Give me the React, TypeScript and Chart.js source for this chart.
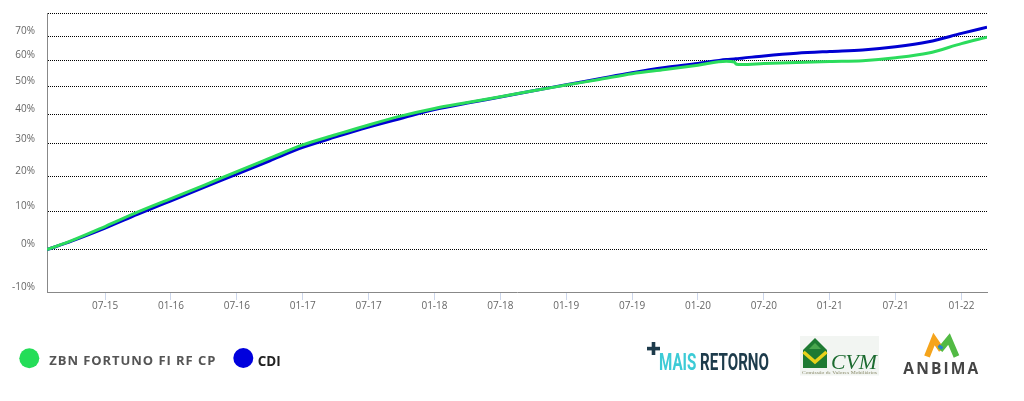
import React, { useEffect, useRef } from 'react';
import { Chart, registerables } from 'chart.js';

Chart.register(...registerables);

const fundName = 'ZBN FORTUNO FI RF CP';
const benchName = 'CDI';

const dates = [
  '2015-01-23', '2015-04-01', '2015-07-01', '2015-10-01', '2016-01-01', '2016-04-01',
  '2016-07-01', '2016-10-01', '2017-01-01', '2017-04-01', '2017-07-01', '2017-10-01',
  '2018-01-01', '2018-04-01', '2018-07-01', '2018-10-01', '2019-01-01', '2019-04-01',
  '2019-07-01', '2019-10-01', '2020-01-01', '2020-03-19', '2020-04-10', '2020-04-16',
  '2020-05-01', '2020-07-01', '2020-10-01', '2021-01-01', '2021-04-01', '2021-07-01',
  '2021-10-01', '2022-01-01', '2022-03-11',
];

const fundReturns = [
  0, 2.3, 5.9, 9.8, 13.5, 17.3,
  21.4, 25.5, 29.7, 33.0, 36.3, 39.4,
  42.0, 44.1, 46.2, 48.4, 50.5, 52.6,
  54.8, 56.4, 58.1, 59.65, 59.4, 58.5,
  58.4, 58.75, 59.2, 59.6, 59.9, 61.05,
  62.95, 66.8, 69.5,
];

const cdiReturns = [
  0, 2.2, 5.5, 9.2, 12.9, 16.7,
  20.6, 24.7, 28.9, 32.3, 35.6, 38.6,
  41.6, 43.9, 46.1, 48.4, 50.6, 52.9,
  55.2, 57.2, 58.8, 60.4, 60.6, 60.7,
  60.9, 61.8, 62.9, 63.6, 64.2, 65.5,
  67.6, 71.1, 73.8,
];

const xTickLabels = [
  '07-15', '01-16', '07-16', '01-17', '07-17', '01-18', '07-18',
  '01-19', '07-19', '01-20', '07-20', '01-21', '07-21', '01-22',
];

const yTickValues = [-10, 0, 10, 20, 30, 40, 50, 60, 70, 80];

const BASE_YEAR = 2015;

function toMonth(d: string): number {
  const [y, m, day] = d.split('-').map(Number);
  const dim = new Date(y, m, 0).getDate();
  return (y - BASE_YEAR) * 12 + (m - 1) + (day - 1) / dim;
}

function labelToMonth(l: string): number {
  const [mm, yy] = l.split('-').map(Number);
  return (2000 + yy - BASE_YEAR) * 12 + (mm - 1);
}

export default function App() {
  const ref = useRef<HTMLCanvasElement | null>(null);

  useEffect(() => {
    if (!ref.current) return;
    Chart.defaults.font.family = "'Open Sans', sans-serif";
    const xs = dates.map(toMonth);
    const xTickValues = xTickLabels.map(labelToMonth);
    const noPad = (s: any) => {
      s.paddingTop = 0;
      s.paddingBottom = 0;
      s.paddingLeft = 0;
      s.paddingRight = 0;
    };
    const chart = new Chart(ref.current, {
      type: 'line',
      data: {
        datasets: [
          {
            label: fundName,
            data: xs.map((x, i) => ({ x, y: 100 + fundReturns[i] })),
            borderColor: '#2bdc5c',
            borderWidth: 3,
            pointRadius: 0,
            cubicInterpolationMode: 'monotone',
            fill: false,
          },
          {
            label: benchName,
            data: xs.map((x, i) => ({ x, y: 100 + cdiReturns[i] })),
            borderColor: '#0000d2',
            borderWidth: 3,
            pointRadius: 0,
            cubicInterpolationMode: 'monotone',
            fill: false,
          },
        ],
      },
      options: {
        animation: false,
        responsive: false,
        devicePixelRatio: 1,
        layout: { padding: { left: 0, right: 37, top: 13, bottom: 0 } },
        plugins: { legend: { display: false }, tooltip: { enabled: false } },
        scales: {
          x: {
            type: 'linear',
            min: xs[0],
            max: xs[xs.length - 1],
            afterFit: (s: any) => { s.height = 38; noPad(s); },
            afterBuildTicks: (s: any) => { s.ticks = xTickValues.map((v) => ({ value: v })); },
            ticks: {
              autoSkip: false,
              maxRotation: 0,
              color: '#666',
              font: { size: 10 },
              padding: 0,
              callback: (_v: any, i: number) => xTickLabels[i],
            },
            grid: { drawOnChartArea: false, drawTicks: true, tickLength: 8, color: '#ccd6eb' },
            border: { color: '#888', width: 1 },
          },
          y: {
            type: 'logarithmic',
            min: 100 + yTickValues[0],
            max: 100 + yTickValues[yTickValues.length - 1],
            afterFit: (s: any) => { s.width = 47; noPad(s); },
            afterBuildTicks: (s: any) => { s.ticks = yTickValues.map((v) => ({ value: 100 + v })); },
            ticks: {
              autoSkip: false,
              color: '#666',
              font: { size: 10 },
              padding: 12,
              labelOffset: -5,
              callback: (v: any) => {
                const r = Math.round(Number(v) - 100);
                return r === yTickValues[yTickValues.length - 1] ? '' : r + '%';
              },
            },
            grid: {
              drawTicks: false,
              color: (c: any) => (c.tick && Math.round(c.tick.value) === 100 + yTickValues[0] ? 'rgba(0,0,0,0)' : '#000'),
            },
            border: { color: '#888', width: 1, dash: [1, 1] },
          },
        },
      },
    } as any);
    return () => chart.destroy();
  }, []);

  return (
    <div style={{ position: 'absolute', left: 0, top: 0, width: 1024, height: 401, background: '#fff', overflow: 'hidden' }}>
      <canvas ref={ref} width={1024} height={330} style={{ position: 'absolute', left: 0, top: 0, width: 1024, height: 330 }} />
      <svg width={1024} height={401} style={{ position: 'absolute', left: 0, top: 0, pointerEvents: 'none' }}>
        {/* legend */}
        <circle cx={29.3} cy={358.3} r={10} fill="#24dd58" />
        <text x={49.3} y={365} fontFamily="'Open Sans', sans-serif" fontWeight={700} fontSize={13} fill="#555" textLength={166} lengthAdjust="spacing">{fundName}</text>
        <circle cx={243.3} cy={358} r={10} fill="#0000dd" />
        <text x={257.7} y={366} fontFamily="'Open Sans', sans-serif" fontWeight={700} fontSize={14} fill="#222" textLength={23} lengthAdjust="spacingAndGlyphs">{benchName}</text>

        {/* +MAIS RETORNO */}
        <rect x={647} y={346.8} width={13} height={3.6} fill="#1d3b4b" />
        <rect x={651.7} y={342} width={3.6} height={13} fill="#1d3b4b" />
        <text x={659} y={370.3} fontFamily="Roboto, sans-serif" fontWeight={700} fontSize={23.5} textLength={110} lengthAdjust="spacingAndGlyphs">
          <tspan fill="#3ccbd6">MAIS</tspan>
          <tspan fill="#1d3b4b"> RETORNO</tspan>
        </text>

        {/* CVM */}
        <rect x={800} y={336} width={79} height={39.5} fill="#f2f5f2" />
        <polygon points="803,350 815,338 827,350 827,368 803,368" fill="#1e7a32" />
        <polygon points="809,349 815,343 821,349" fill="#4aa64e" />
        <polyline points="803.5,352 815,362 826.5,352" fill="none" stroke="#e8d21a" strokeWidth={3.5} />
        <text x={831} y={368.7} fontFamily="'Liberation Serif', serif" fontStyle="italic" fontSize={22} fill="#1c6b30" textLength={46} lengthAdjust="spacingAndGlyphs">CVM</text>
        <text x={802} y={374} fontFamily="'Liberation Serif', serif" fontSize={4} fill="#8a8a6a" textLength={75} lengthAdjust="spacingAndGlyphs">Comissão de Valores Mobiliários</text>

        {/* ANBIMA */}
        <polyline points="927,356.5 934,339 941.5,350" fill="none" stroke="#f5a41c" strokeWidth={6} strokeLinejoin="miter" />
        <polyline points="940,350 949,339 956.5,356.5" fill="none" stroke="#52ba44" strokeWidth={6} strokeLinejoin="miter" />
        <line x1={938.5} y1={345.5} x2={942.5} y2={348.5} stroke="#2a7fd0" strokeWidth={3} />
        <text x={903.3} y={373.7} fontFamily="'Open Sans', sans-serif" fontWeight={700} fontSize={15.5} fill="#444" textLength={75} lengthAdjust="spacing">ANBIMA</text>
      </svg>
    </div>
  );
}
